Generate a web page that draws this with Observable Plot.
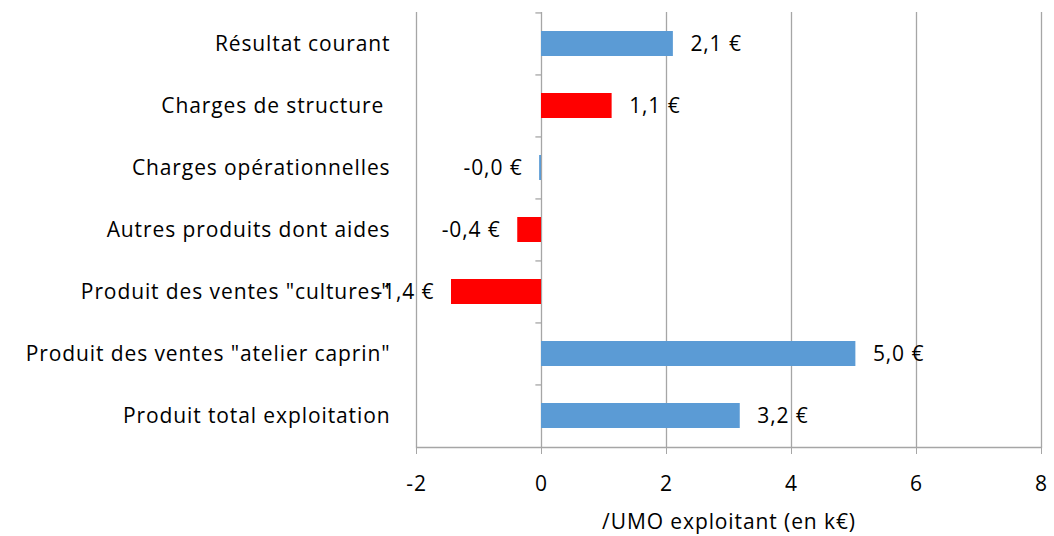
<!DOCTYPE html>
<html>
<head>
<meta charset="utf-8">
<script src="https://cdn.jsdelivr.net/npm/d3@7"></script>
<script src="https://cdn.jsdelivr.net/npm/@observablehq/plot@0.6"></script>
<style>
  html, body { margin: 0; padding: 0; background: #fff; }
  #chart { width: 1054px; height: 536px; overflow: hidden; }
</style>
</head>
<body>
<div id="chart"></div>
<script>
const categories = [
  "Résultat courant",
  "Charges de structure ",
  "Charges opérationnelles",
  "Autres produits dont aides",
  "Produit des ventes \"cultures\"",
  "Produit des ventes \"atelier caprin\"",
  "Produit total exploitation"
];
const values = [2.11, 1.13, -0.03, -0.38, -1.44, 5.03, 3.18];
const effects = ["favorable", "défavorable", "favorable", "défavorable", "défavorable", "favorable", "favorable"];
const xTicks = [-2, 0, 2, 4, 6, 8];
const xLabel = "/UMO exploitant (en k€)";

const data = categories.map((c, i) => ({category: c, value: values[i], effect: effects[i]}));
const fmt = v => v.toFixed(1).replace(".", ",") + " €";
const grid = "#a6a6a6";

const chart = Plot.plot({
  width: 1054,
  height: 536,
  marginLeft: 416,
  marginRight: 13,
  marginTop: 12,
  marginBottom: 89,
  style: {fontFamily: "'Open Sans', sans-serif", fontSize: "21px", letterSpacing: "0.9px", color: "#000", background: "#fff"},
  x: {domain: [-2, 8], ticks: xTicks},
  y: {domain: categories, paddingInner: 0.6, paddingOuter: 0.3, label: null},
  color: {domain: ["favorable", "défavorable"], range: ["#5b9bd5", "#ff0000"]},
  marks: [
    Plot.ruleX(xTicks, {stroke: grid, strokeWidth: 1.3}),
    Plot.frame({anchor: "bottom", stroke: grid, strokeWidth: 1.3}),
    Plot.ruleY(categories, {y: d => d, x1: -0.09, x2: 0, dy: -31.07, stroke: grid, strokeWidth: 1.3}),
    Plot.barX(data, {x: "value", y: "category", fill: "effect"}),
    Plot.text(data.filter(d => d.value >= 0), {x: "value", y: "category", text: d => fmt(d.value), dx: 17, textAnchor: "start", fill: "#000"}),
    Plot.text(data.filter(d => d.value < 0), {x: "value", y: "category", text: d => fmt(d.value), dx: -17, textAnchor: "end", fill: "#000"}),
    Plot.axisX({ticks: xTicks, tickSize: 7, tickPadding: 22, stroke: grid, tickFormat: d => d < 0 ? "-" + Math.abs(d) : String(d), label: xLabel, labelAnchor: "center", labelArrow: "none", labelOffset: 81}),
    Plot.axisY({tickSize: 0, tickPadding: 26, label: null})
  ]
});
document.getElementById("chart").appendChild(chart);
</script>
</body>
</html>
